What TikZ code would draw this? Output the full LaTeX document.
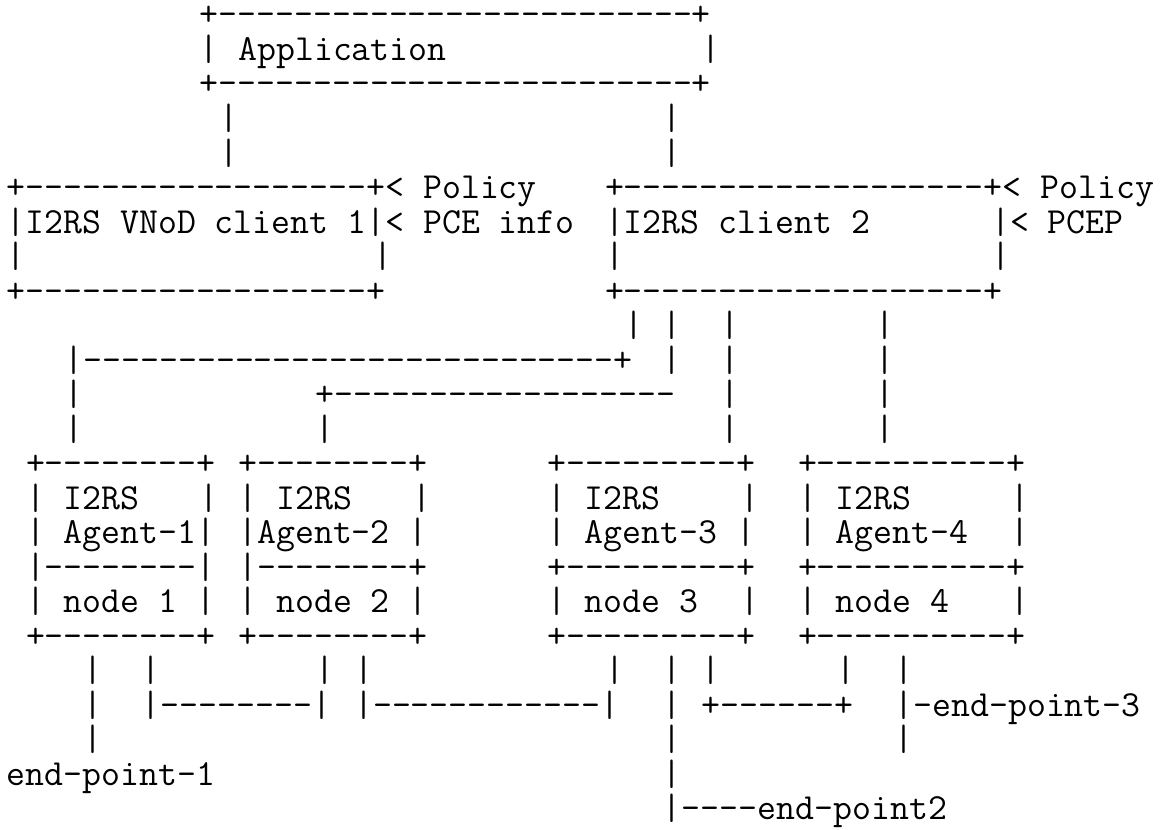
\documentclass[tikz,border=0pt]{standalone}
\usepackage{tikz}
\tikzset{
  font={\ttfamily\fontsize{18.38pt}{17.25pt}\selectfont}}

\begin{document}
\begin{tikzpicture}[x=9.65pt,y=-17.25pt]
\tikzstyle{every node}+=[inner sep=0pt,anchor=base west]
\useasboundingbox (0pt,0pt) rectangle (582.5pt,-414.5pt);
\begin{scope}[shift={(3.175pt,-13pt)}]
% application box
\node (r0) at (10,0) {+-------------------------+};
\node (r1a) at (10,1) {|};
\node (r1b) at (12,1) {Application};
\node (r1c) at (36,1) {|};
\node (r2) at (10,2) {+-------------------------+};
\node (r3a) at (11,3) {|};
\node (r3b) at (34,3) {|};
\node (r4a) at (11,4) {|};
\node (r4b) at (34,4) {|};
% client boxes
\node (r5a) at (0,5) {+------------------+< Policy};
\node (r5b) at (31,5) {+-------------------+< Policy};
\node (r6a) at (0,6) {|I2RS VNoD client 1|< PCE info};
\node (r6b) at (31,6) {|I2RS client 2};
\node (r6c) at (51,6) {|< PCEP};
\node (r7a) at (0,7) {|};
\node (r7b) at (19,7) {|};
\node (r7c) at (31,7) {|};
\node (r7d) at (51,7) {|};
\node (r8a) at (0,8) {+------------------+};
\node (r8b) at (31,8) {+-------------------+};
% links from client 2
\node (r9a) at (32,9) {|};
\node (r9b) at (34,9) {|};
\node (r9c) at (37,9) {|};
\node (r9d) at (45,9) {|};
\node (r10a) at (3,10) {|----------------------------+};
\node (r10b) at (34,10) {|};
\node (r10c) at (37,10) {|};
\node (r10d) at (45,10) {|};
\node (r11a) at (3,11) {|};
\node (r11b) at (16,11) {+------------------};
\node (r11c) at (37,11) {|};
\node (r11d) at (45,11) {|};
\node (r12a) at (3,12) {|};
\node (r12b) at (16,12) {|};
\node (r12c) at (37,12) {|};
\node (r12d) at (45,12) {|};
% agent boxes
\node (r13a) at (1,13) {+--------+};
\node (r13b) at (12,13) {+--------+};
\node (r13c) at (28,13) {+---------+};
\node (r13d) at (41,13) {+----------+};
\node (r14a) at (1,14) {| I2RS};
\node (r14b) at (10,14) {|};
\node (r14c) at (12,14) {| I2RS};
\node (r14d) at (21,14) {|};
\node (r14e) at (28,14) {| I2RS};
\node (r14f) at (38,14) {|};
\node (r14g) at (41,14) {| I2RS};
\node (r14h) at (52,14) {|};
\node (r15a) at (1,15) {| Agent-1|};
\node (r15b) at (12,15) {|Agent-2 |};
\node (r15c) at (28,15) {| Agent-3 |};
\node (r15d) at (41,15) {| Agent-4};
\node (r15e) at (52,15) {|};
\node (r16a) at (1,16) {|--------|};
\node (r16b) at (12,16) {|--------+};
\node (r16c) at (28,16) {+---------+};
\node (r16d) at (41,16) {+----------+};
\node (r17a) at (1,17) {| node 1 |};
\node (r17b) at (12,17) {| node 2 |};
\node (r17c) at (28,17) {| node 3};
\node (r17d) at (38,17) {|};
\node (r17e) at (41,17) {| node 4};
\node (r17f) at (52,17) {|};
\node (r18a) at (1,18) {+--------+};
\node (r18b) at (12,18) {+--------+};
\node (r18c) at (28,18) {+---------+};
\node (r18d) at (41,18) {+----------+};
% end points
\node (r19a) at (4,19) {|};
\node (r19b) at (7,19) {|};
\node (r19c) at (16,19) {|};
\node (r19d) at (18,19) {|};
\node (r19e) at (31,19) {|};
\node (r19f) at (34,19) {|};
\node (r19g) at (36,19) {|};
\node (r19h) at (43,19) {|};
\node (r19i) at (46,19) {|};
\node (r20a) at (4,20) {|};
\node (r20b) at (7,20) {|--------|};
\node (r20c) at (18,20) {|------------|};
\node (r20d) at (34,20) {|};
\node (r20e) at (36,20) {+------+};
\node (r20f) at (46,20) {|-end-point-3};
\node (r21a) at (4,21) {|};
\node (r21b) at (34,21) {|};
\node (r21c) at (46,21) {|};
\node (r22a) at (0,22) {end-point-1};
\node (r22b) at (34,22) {|};
\node (r23) at (34,23) {|----end-point2};
\end{scope}
\end{tikzpicture}
\end{document}
